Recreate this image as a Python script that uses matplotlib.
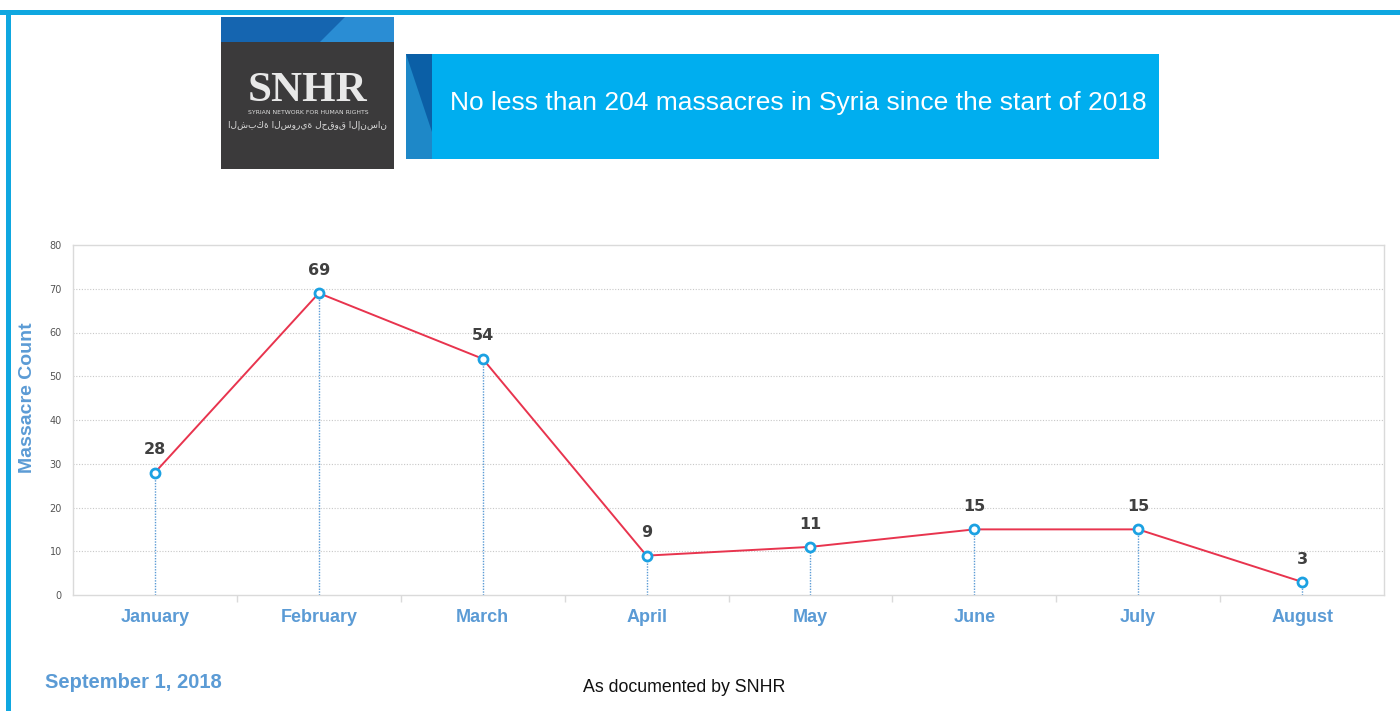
import matplotlib
matplotlib.use("Agg")
import matplotlib.pyplot as plt
from matplotlib.patches import Rectangle, Polygon

months = ["January", "February", "March", "April", "May", "June", "July", "August"]
counts = [28, 69, 54, 9, 11, 15, 15, 3]
yticks = [0, 10, 20, 30, 40, 50, 60, 70, 80]

W, H = 1400, 711
fig = plt.figure(figsize=(14, 7.11), dpi=100)
fig.patch.set_facecolor("white")

def fx(x):
    return x / W

def fy(y):
    return 1 - y / H

# Frame lines
fig.add_artist(Rectangle((0, fy(15)), 1, 5 / H, transform=fig.transFigure,
                         color="#0FA7E0", lw=0))
fig.add_artist(Rectangle((fx(6), 0), 5 / W, fy(10), transform=fig.transFigure,
                         color="#0FA7E0", lw=0))

# Logo box
fig.add_artist(Rectangle((fx(221), fy(169)), 173 / W, 152 / H, transform=fig.transFigure,
                         color="#3B3A3B", lw=0))
fig.add_artist(Rectangle((fx(221), fy(42)), 173 / W, 25 / H, transform=fig.transFigure,
                         color="#1565B0", lw=0))
fig.add_artist(Polygon([(fx(320), fy(42)), (fx(345), fy(17)), (fx(394), fy(17)), (fx(394), fy(42))],
                       closed=True, transform=fig.transFigure, color="#2A8DD4", lw=0))
fig.text(fx(308), fy(91), "SNHR", color="#E8E8E8", fontsize=31, fontweight="bold",
         family="Liberation Serif", ha="center", va="center")
fig.text(fx(308), fy(113), "SYRIAN NETWORK FOR HUMAN RIGHTS", color="#DDDDDD", fontsize=4.4,
         ha="center", va="center")
fig.text(fx(308), fy(125), "الشبكة السورية لحقوق الإنسان", color="#DDDDDD", fontsize=6.5,
         family=["DejaVu Sans"], ha="center", va="center")

# Title banner
fig.add_artist(Rectangle((fx(406), fy(159)), (1159 - 406) / W, 105 / H, transform=fig.transFigure,
                         color="#00AEEF", lw=0))
fig.add_artist(Rectangle((fx(406), fy(159)), 26 / W, 105 / H, transform=fig.transFigure,
                         color="#1E88C8", lw=0))
fig.add_artist(Polygon([(fx(406), fy(54)), (fx(432), fy(54)), (fx(432), fy(132))],
                       closed=True, transform=fig.transFigure, color="#0B5FA6", lw=0))
fig.text(fx(798), fy(103), "No less than 204 massacres in Syria since the start of 2018",
         color="white", fontsize=19, family="Liberation Sans", ha="center", va="center")

# Chart axes
ax = fig.add_axes([fx(73), fy(595), (1384 - 73) / W, (595 - 245) / H])
x = list(range(len(months)))
ax.set_xlim(-0.5, len(months) - 0.5)
ax.set_ylim(0, 80)
ax.set_yticks(yticks)
ax.set_yticklabels([str(v) for v in yticks], fontsize=7, color="#555555")
for yv in yticks[1:-1]:
    ax.axhline(yv, color="#C8C8C8", lw=0.8, ls=(0, (1, 1.5)), zorder=0)
for s in ["left", "right", "top", "bottom"]:
    ax.spines[s].set_color("#DADADA")
    ax.spines[s].set_linewidth(1)
ax.tick_params(axis="y", length=0, pad=8)
ax.set_xticks([i + 0.5 for i in range(len(months) - 1)], minor=False)
ax.set_xticklabels([])
ax.tick_params(axis="x", length=5, color="#DADADA", width=1)
ax.set_xticks(x, minor=True)
ax.set_xticklabels(months, minor=True, fontsize=13, fontweight="bold", color="#5B9BD5",
                   family="Liberation Sans")
ax.tick_params(axis="x", which="minor", length=0, pad=10)

ax.vlines(x, 0, counts, colors="#5B9BD5", linestyles=(0, (1, 1)), lw=1, zorder=2)
ax.plot(x, counts, color="#E8344E", lw=1.4, zorder=3)
ax.plot(x, counts, ls="none", marker="o", markersize=6.5, markerfacecolor="white",
        markeredgecolor="#1BA1E2", markeredgewidth=2, zorder=4)
for xi, v in zip(x, counts):
    ax.annotate(str(v), (xi, v), xytext=(0, 11), textcoords="offset points",
                ha="center", va="bottom", fontsize=11.5, fontweight="bold", color="#404040")

ax.set_ylabel("Massacre Count", fontsize=14, fontweight="bold", color="#5B9BD5",
              family="Liberation Sans")
ax.yaxis.set_label_coords(fx(36), fy(398), transform=fig.transFigure)

fig.text(fx(45), fy(683), "September 1, 2018", fontsize=14.5, fontweight="bold",
         color="#5B9BD5", family="Liberation Sans", ha="left", va="center")
fig.text(fx(684), fy(687), "As documented by SNHR", fontsize=12.8, color="#111111",
         family="Liberation Sans", ha="center", va="center")

fig.savefig("out.png", dpi=100)
